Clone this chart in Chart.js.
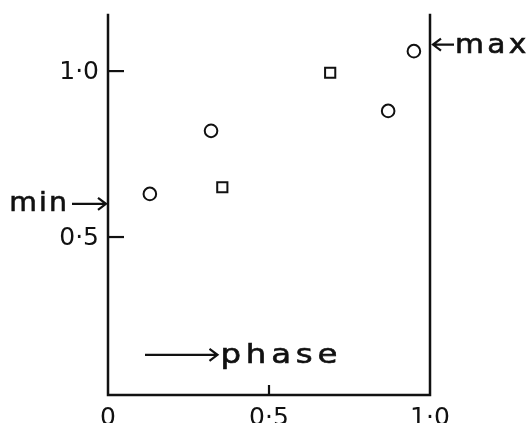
<!DOCTYPE html>
<html>
<head>
<meta charset="utf-8">
<script src="https://cdn.jsdelivr.net/npm/chart.js@4"></script>
<style>
  html, body { margin: 0; padding: 0; background: #fff; }
  .chart-container { position: relative; width: 531px; height: 423px; }
</style>
</head>
<body>
<div class="chart-container">
  <canvas id="chart"></canvas>
</div>
<script>
// readings taken off the figure (phase, value)
const circlePhase = [0.13, 0.32, 0.87, 0.95];
const circleValue = [0.63, 0.82, 0.88, 1.06];
const squarePhase = [0.355, 0.69];
const squareValue = [0.65, 0.995];
const xTicks = [0, 0.5, 1.0];
const xTickLabels = ['0', '0·5', '1·0'];
const yTicks = [0.5, 1.0];
const yTickLabels = ['0·5', '1·0'];

const toPoints = (xs, ys) => xs.map((x, i) => ({ x: x, y: ys[i] }));

const ink = '#111';
const numFont = '25px "DejaVu Sans"';
const wordFont = '27px "DejaVu Sans"';

function arrow(ctx, x1, y, x2) {
  const dir = Math.sign(x2 - x1);
  ctx.beginPath();
  ctx.moveTo(x1, y);
  ctx.lineTo(x2, y);
  ctx.moveTo(x2 - dir * 8, y - 6);
  ctx.lineTo(x2, y);
  ctx.lineTo(x2 - dir * 8, y + 6);
  ctx.stroke();
}

// the lettering in the figure is wide and a bit heavy
function word(ctx, text, x, y, stretch, spacing) {
  ctx.save();
  ctx.translate(x, y);
  ctx.scale(stretch, 1);
  ctx.letterSpacing = spacing + 'px';
  ctx.lineWidth = 0.6;
  ctx.fillText(text, 0, 0);
  ctx.strokeText(text, 0, 0);
  ctx.restore();
}

// hand drawn axes, ticks and notes
const framePlugin = {
  id: 'frame',
  afterDatasetsDraw(chart) {
    const ctx = chart.ctx;
    const xs = chart.scales.x;
    const ys = chart.scales.y;
    const area = chart.chartArea;
    ctx.save();
    ctx.strokeStyle = ink;
    ctx.fillStyle = ink;
    ctx.lineWidth = 2.5;
    ctx.lineCap = 'square';

    // left, bottom and right lines
    ctx.beginPath();
    ctx.moveTo(area.left, area.top);
    ctx.lineTo(area.left, area.bottom);
    ctx.lineTo(area.right, area.bottom);
    ctx.lineTo(area.right, area.top);
    ctx.stroke();

    ctx.lineCap = 'butt';
    // y ticks point inward
    yTicks.forEach((v, i) => {
      const py = ys.getPixelForValue(v);
      ctx.lineWidth = 2.2;
      ctx.beginPath();
      ctx.moveTo(area.left, py);
      ctx.lineTo(area.left + 16, py);
      ctx.stroke();
      ctx.font = numFont;
      ctx.textAlign = 'right';
      ctx.textBaseline = 'middle';
      ctx.fillText(yTickLabels[i], area.left - 9, py + 1);
    });

    // x ticks
    xTicks.forEach((v, i) => {
      const px = xs.getPixelForValue(v);
      if (v > 0 && v < 1) {
        ctx.lineWidth = 2.2;
        ctx.beginPath();
        ctx.moveTo(px, area.bottom);
        ctx.lineTo(px, area.bottom - 10);
        ctx.stroke();
      }
      ctx.font = numFont;
      ctx.textAlign = 'center';
      ctx.textBaseline = 'top';
      ctx.fillText(xTickLabels[i], px, area.bottom + 11);
    });

    ctx.font = wordFont;
    ctx.textBaseline = 'alphabetic';

    // min arrow onto the left axis
    const yMin = ys.getPixelForValue(0.60);
    ctx.lineWidth = 2.2;
    arrow(ctx, area.left - 36, yMin, area.left - 2);
    ctx.textAlign = 'right';
    word(ctx, 'min', area.left - 39, yMin + 7, 1.05, 2);

    // max arrow onto the right axis
    const yMax = ys.getPixelForValue(1.08);
    ctx.lineWidth = 2.2;
    arrow(ctx, area.right + 24, yMax, area.right + 3);
    ctx.textAlign = 'left';
    word(ctx, 'max', area.right + 25, yMax + 8, 1.1, 3);

    // phase direction
    const yPh = ys.getPixelForValue(0.145);
    const xA = xs.getPixelForValue(0.115);
    const xB = xs.getPixelForValue(0.34);
    ctx.lineWidth = 2.2;
    arrow(ctx, xA, yPh, xB);
    word(ctx, 'phase', xB + 3, yPh + 8, 1.2, 4);

    ctx.restore();
  }
};

new Chart(document.getElementById('chart'), {
  type: 'scatter',
  data: {
    datasets: [
      {
        label: 'circles',
        data: toPoints(circlePhase, circleValue),
        pointStyle: 'circle',
        pointRadius: 6.3,
        borderWidth: 2,
        borderColor: ink,
        backgroundColor: '#fff'
      },
      {
        label: 'squares',
        data: toPoints(squarePhase, squareValue),
        pointStyle: 'rect',
        pointRadius: 7.2,
        borderWidth: 2,
        borderColor: ink,
        backgroundColor: '#fff'
      }
    ]
  },
  plugins: [framePlugin],
  options: {
    responsive: true,
    maintainAspectRatio: false,
    animation: false,
    events: [],
    layout: { padding: { left: 108, right: 101, top: 15, bottom: 28 } },
    plugins: {
      legend: { display: false },
      tooltip: { enabled: false }
    },
    scales: {
      x: { type: 'linear', min: 0, max: 1, display: false },
      y: { type: 'linear', min: 0.024, max: 1.169, display: false }
    }
  }
});
</script>
</body>
</html>
